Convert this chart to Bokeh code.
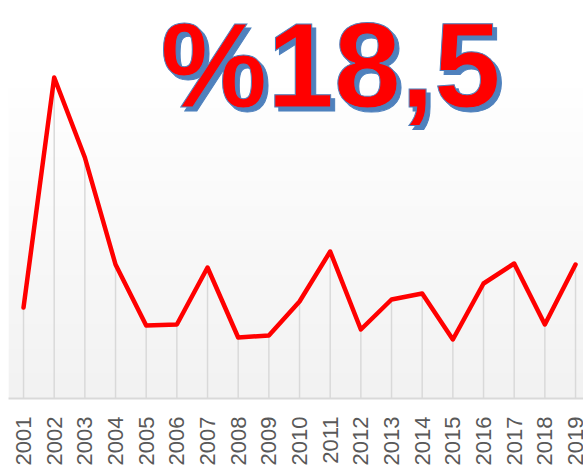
import numpy as np
from bokeh.plotting import figure
from bokeh.models import Range1d, FixedTicker, Label
from bokeh.embed import file_html
from bokeh.resources import INLINE

years = ["2001", "2002", "2003", "2004", "2005", "2006", "2007", "2008", "2009", "2010",
         "2011", "2012", "2013", "2014", "2015", "2016", "2017", "2018", "2019"]
values = [9.1, 32.1, 24.1, 13.4, 7.3, 7.4, 13.1, 6.1, 6.3, 9.7,
          14.7, 6.9, 9.9, 10.5, 5.9, 11.5, 13.5, 7.4, 13.4]
headline = "%18,5"

xs = list(range(len(years)))

X0, X1 = -0.49, 18.26
Y0, Y1 = 0, 39
PLOT_TOP = 31.5  # top of the shaded plot area

p = figure(width=583, height=472, output_backend="svg", toolbar_location=None,
           x_range=Range1d(X0, X1), y_range=Range1d(Y0, Y1),
           min_border_left=8, min_border_right=0, min_border_top=8, min_border_bottom=74)
p.outline_line_color = None
p.background_fill_color = "white"
p.border_fill_color = "white"
p.grid.visible = False
p.yaxis.visible = False

# gradient plot-area background
n = 64
t = np.linspace(0, 1, n)
top = np.array([255, 255, 255])
bot = np.array([242, 242, 242])
img = np.zeros((n, 1), dtype=np.uint32)
view = img.view(dtype=np.uint8).reshape((n, 1, 4))
for i in range(n):
    c = bot + (top - bot) * t[i]
    view[i, 0, 0] = int(c[0]); view[i, 0, 1] = int(c[1]); view[i, 0, 2] = int(c[2]); view[i, 0, 3] = 255
p.image_rgba(image=[img], x=X0, y=Y0, dw=X1 - X0, dh=PLOT_TOP - Y0)

# drop lines
p.segment(x0=xs, y0=[0] * len(xs), x1=xs, y1=values, line_color="#d9d9d9", line_width=1.5)

# main line
p.line(xs, values, line_color="#ff0000", line_width=4.5, line_join="round", line_cap="round")

ax = p.xaxis[0]
ax.ticker = FixedTicker(ticks=xs)
ax.major_label_overrides = {i: y for i, y in zip(xs, years)}
ax.major_label_orientation = np.pi / 2
ax.major_tick_line_color = None
ax.minor_tick_line_color = None
ax.major_tick_out = 0
ax.major_label_standoff = 18
ax.axis_line_color = "#d9d9d9"
ax.axis_line_width = 2
ax.major_label_text_font = "Liberation Sans"
ax.major_label_text_font_size = "22px"
ax.major_label_text_color = "#595959"

# headline with blue shadow/outline
shadow = Label(x=156, y=330, x_units="screen", y_units="screen", text=headline,
               text_font="Liberation Sans", text_font_style="bold", text_font_size="120px",
               text_color="#4f81bd", text_outline_color="#4f81bd", text_baseline="alphabetic")
main = Label(x=152, y=334, x_units="screen", y_units="screen", text=headline,
             text_font="Liberation Sans", text_font_style="bold", text_font_size="120px",
             text_color="#ff0000", text_outline_color="#4f81bd", text_baseline="alphabetic")
p.add_layout(shadow)
p.add_layout(main)

open("out.html", "w").write(file_html(p, INLINE))
